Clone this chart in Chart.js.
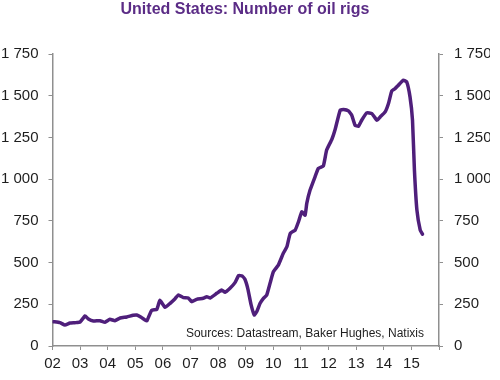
<!DOCTYPE html>
<html>
<head>
<meta charset="utf-8">
<script src="https://cdn.jsdelivr.net/npm/chart.js@4/dist/chart.umd.min.js"></script>
<style>
  html, body { margin: 0; padding: 0; background: #ffffff; }
  #wrap { width: 500px; height: 380px; position: relative; }
</style>
</head>
<body>
<div id="wrap"><canvas id="c" width="500" height="380"></canvas></div>
<script>
// ---- data ----
const titleText = 'United States: Number of oil rigs';
const sourceText = 'Sources: Datastream, Baker Hughes, Natixis';
const dates = [
  2002.03, 2002.27, 2002.45, 2002.63, 2002.82, 2003.00, 2003.18, 2003.30, 2003.48, 2003.72,
  2003.90, 2004.08, 2004.26, 2004.45, 2004.69, 2004.92, 2005.05, 2005.21, 2005.35, 2005.42,
  2005.59, 2005.78, 2005.89, 2006.08, 2006.26, 2006.44, 2006.56, 2006.74, 2006.92, 2007.04,
  2007.22, 2007.46, 2007.59, 2007.71, 2007.95, 2008.13, 2008.25, 2008.43, 2008.61, 2008.74,
  2008.87, 2008.97, 2009.08, 2009.19, 2009.31, 2009.41, 2009.52, 2009.64, 2009.76, 2009.88,
  2010.00, 2010.18, 2010.36, 2010.49, 2010.61, 2010.79, 2010.91, 2011.03, 2011.15, 2011.21,
  2011.33, 2011.51, 2011.63, 2011.81, 2011.93, 2012.12, 2012.24, 2012.42, 2012.54, 2012.72,
  2012.84, 2012.96, 2013.08, 2013.20, 2013.38, 2013.57, 2013.75, 2013.87, 2014.05, 2014.17,
  2014.29, 2014.41, 2014.53, 2014.71, 2014.83, 2014.95, 2015.04, 2015.11, 2015.20, 2015.32,
  2015.40
];
const rigs = [
  146, 140, 126, 138, 140, 144, 180, 162, 150, 152,
  142, 160, 152, 168, 174, 184, 186, 172, 156, 152,
  214, 220, 274, 232, 256, 284, 306, 290, 288, 266,
  280, 286, 296, 288, 316, 336, 322, 346, 380, 422,
  420, 400, 340, 250, 186, 210, 256, 286, 306, 376,
  445, 485, 556, 595, 675, 695, 745, 805, 785, 855,
  935, 1015, 1065, 1079, 1175, 1240, 1300, 1414, 1418, 1410,
  1384, 1324, 1318, 1354, 1398, 1394, 1354, 1374, 1404, 1454,
  1530, 1544, 1564, 1594, 1584, 1494, 1354, 1055, 815, 695,
  671
];
const yTicks = [0, 250, 500, 750, 1000, 1250, 1500, 1750];
const yearLabels = ['02','03','04','05','06','07','08','09','10','11','12','13','14','15'];

// ---- styling ----
const FONT = "'Liberation Sans', Arial, sans-serif";
const axisGray = '#8f8f8f';
const textCol = '#1e1e1e';
const lineCol = '#4f1f7b';
const titleCol = '#5b2c86';

function fmt(v) {
  if (v >= 1000) {
    return Math.floor(v / 1000) + ' ' + String(v % 1000).padStart(3, '0');
  }
  return String(v);
}

const sourcePlugin = {
  id: 'sourceNote',
  afterDatasetsDraw(chart) {
    const ctx = chart.ctx;
    const a = chart.chartArea;
    ctx.save();
    ctx.font = '12px ' + FONT;
    ctx.fillStyle = textCol;
    ctx.textAlign = 'right';
    ctx.textBaseline = 'middle';
    ctx.fillText(sourceText, a.right - 15, a.bottom - 12);
    ctx.restore();
  }
};

const points = dates.map((d, i) => ({ x: d, y: rigs[i] }));

new Chart(document.getElementById('c'), {
  type: 'line',
  data: {
    datasets: [{
      data: points,
      borderColor: lineCol,
      borderWidth: 3.5,
      pointRadius: 0,
      tension: 0.12,
      fill: false,
      yAxisID: 'y',
      borderCapStyle: 'round',
      borderJoinStyle: 'round'
    }]
  },
  options: {
    responsive: false,
    animation: false,
    devicePixelRatio: 1,
    layout: { padding: { left: 0, right: 10, top: 0, bottom: 0 } },
    plugins: {
      legend: { display: false },
      tooltip: { enabled: false },
      title: {
        display: true,
        text: titleText,
        color: titleCol,
        font: { family: FONT, size: 16, weight: 'bold' },
        padding: { top: 0, bottom: 35 }
      }
    },
    scales: {
      x: {
        type: 'linear',
        min: 2002,
        max: 2016,
        afterFit(s) { s.height = 34; },
        afterBuildTicks(s) {
          s.ticks = [];
          for (let y = 2002; y <= 2016; y++) s.ticks.push({ value: y });
        },
        ticks: {
          autoSkip: false,
          maxRotation: 0,
          padding: 5,
          color: textCol,
          font: { family: FONT, size: 15 },
          callback(v) {
            const i = Math.round(v) - 2002;
            return (i >= 0 && i < yearLabels.length) ? yearLabels[i] : '';
          }
        },
        grid: { drawOnChartArea: false, drawTicks: true, tickLength: 4, color: axisGray, lineWidth: 1 },
        border: { display: true, color: axisGray, width: 1.5 }
      },
      y: {
        position: 'left',
        min: 0,
        max: 1750,
        afterFit(s) { s.width = 52.5; },
        afterBuildTicks(s) { s.ticks = yTicks.map(v => ({ value: v })); },
        ticks: {
          padding: 10,
          color: textCol,
          font: { family: FONT, size: 15 },
          callback(v) { return fmt(v); }
        },
        grid: { drawOnChartArea: false, drawTicks: true, tickLength: 4, color: axisGray, lineWidth: 1 },
        border: { display: true, color: axisGray, width: 1.5 }
      },
      y2: {
        position: 'right',
        min: 0,
        max: 1750,
        afterFit(s) { s.width = 51; },
        afterBuildTicks(s) { s.ticks = yTicks.map(v => ({ value: v })); },
        ticks: {
          padding: 11,
          color: textCol,
          font: { family: FONT, size: 15 },
          callback(v) { return fmt(v); }
        },
        grid: { drawOnChartArea: false, drawTicks: true, tickLength: 4, color: axisGray, lineWidth: 1 },
        border: { display: true, color: axisGray, width: 1.5 }
      }
    }
  },
  plugins: [sourcePlugin]
});
</script>
</body>
</html>
